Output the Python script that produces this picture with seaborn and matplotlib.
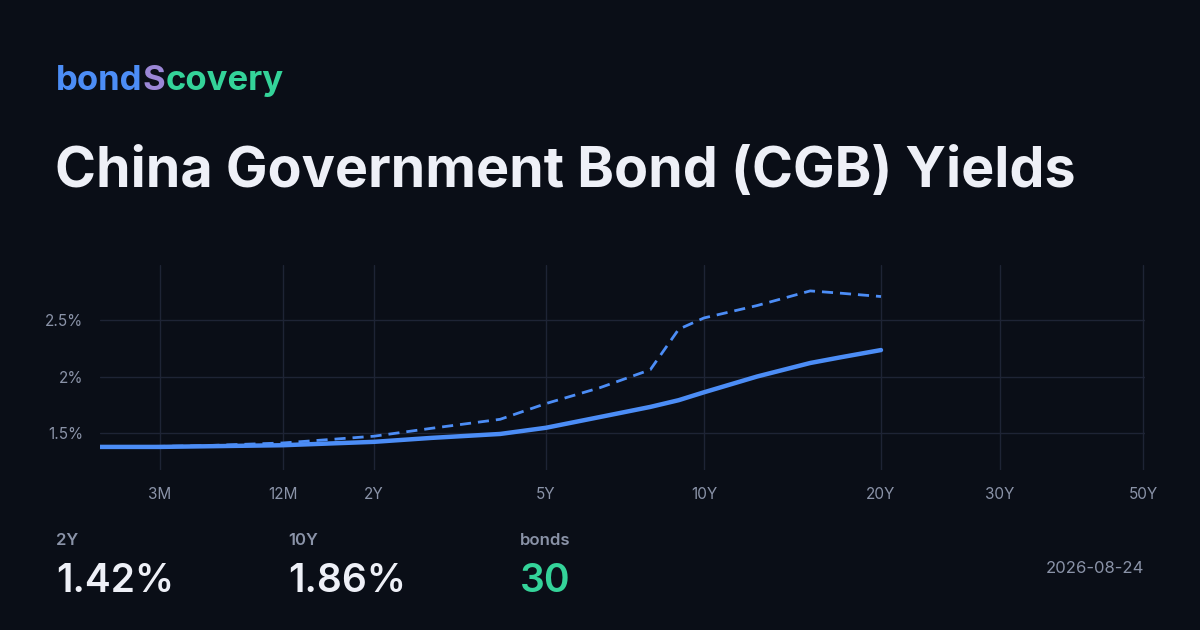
import matplotlib
matplotlib.use("Agg")
import matplotlib.pyplot as plt
import numpy as np
import pandas as pd
import seaborn as sns

# maturities in years and yields (%)
maturities = [1 / 12, 0.25, 0.5, 1, 2, 3, 4.2, 5, 6.7, 8.3, 9.2, 10, 13, 16, 17.7, 20]
yield_now = [1.375, 1.375, 1.38, 1.39, 1.42, 1.455, 1.49, 1.545, 1.64, 1.73, 1.79, 1.86, 2.0, 2.12, 2.17, 2.235]
yield_prev = [1.375, 1.38, 1.385, 1.41, 1.47, 1.54, 1.62, 1.76, 1.9, 2.06, 2.42, 2.52, 2.63, 2.76, 2.74, 2.71]

tick_years = [0.25, 1, 2, 5, 10, 20, 30, 50]
tick_labels = ["3M", "12M", "2Y", "5Y", "10Y", "20Y", "30Y", "50Y"]
y_ticks = [1.5, 2.0, 2.5]
y_labels = ["1.5%", "2%", "2.5%"]

# non-uniform maturity axis used by the chart
axis_years = [1 / 12] + tick_years
axis_pos = [100, 160, 283, 374, 546, 704, 881, 1000, 1143]


def to_pos(years):
    return np.interp(years, axis_years, axis_pos)


BG = "#0a0e17"
GRID = "#1e2435"
LINE = "#4c8df6"
MUTED = "#8a93a8"
WHITE = "#eef0f7"
GREEN = "#34d399"

sns.set_theme(style="dark")
plt.rcParams["font.family"] = ["Inter", "DejaVu Sans"]

fig = plt.figure(figsize=(12, 6.3), dpi=100, facecolor=BG)
ax = fig.add_axes([100 / 1200, 1 - 470 / 630, 1045 / 1200, 205 / 630], facecolor=BG)

df = pd.DataFrame({"x": to_pos(maturities), "now": yield_now, "prev": yield_prev})
sns.lineplot(data=df, x="x", y="prev", ax=ax, color=LINE, lw=2, linestyle=(0, (4, 2.5)))
sns.lineplot(data=df, x="x", y="now", ax=ax, color=LINE, lw=3.2)

ax.set_xlim(100, 1145)
ax.set_ylim(1.17, 2.99)
ax.set_xticks(to_pos(tick_years))
ax.set_xticklabels(tick_labels)
ax.set_yticks(y_ticks)
ax.set_yticklabels(y_labels)
ax.grid(True, color=GRID, lw=1)
ax.tick_params(colors=MUTED, labelsize=11, length=0, pad=12)
ax.set_xlabel("")
ax.set_ylabel("")
for s in ax.spines.values():
    s.set_visible(False)

# logo
r = fig.canvas.get_renderer()
x = 56 / 1200
for part, col in [("bond", "#4c8df6"), ("S", "#9b86d6"), ("covery", "#34d399")]:
    t = fig.text(x, 1 - 90 / 630, part, color=col, fontsize=25, fontweight="bold", va="baseline")
    x += t.get_window_extent(r).width / 1200

fig.text(55 / 1200, 1 - 187 / 630, "China Government Bond (CGB) Yields", color=WHITE,
         fontsize=40, fontweight="bold", va="baseline")

stats = [(56, "2Y", "1.42%", WHITE), (288, "10Y", "1.86%", WHITE), (520, "bonds", "30", GREEN)]
for px, lab, val, col in stats:
    fig.text(px / 1200, 1 - 545 / 630, lab, color=MUTED, fontsize=12, fontweight="semibold", va="baseline")
    fig.text(px / 1200, 1 - 592 / 630, val, color=col, fontsize=28, fontweight="semibold", va="baseline")
fig.text(1144 / 1200, 1 - 573 / 630, "2026-08-24", color=MUTED, fontsize=12, ha="right", va="baseline")

fig.savefig("out.png", dpi=100, facecolor=BG)
